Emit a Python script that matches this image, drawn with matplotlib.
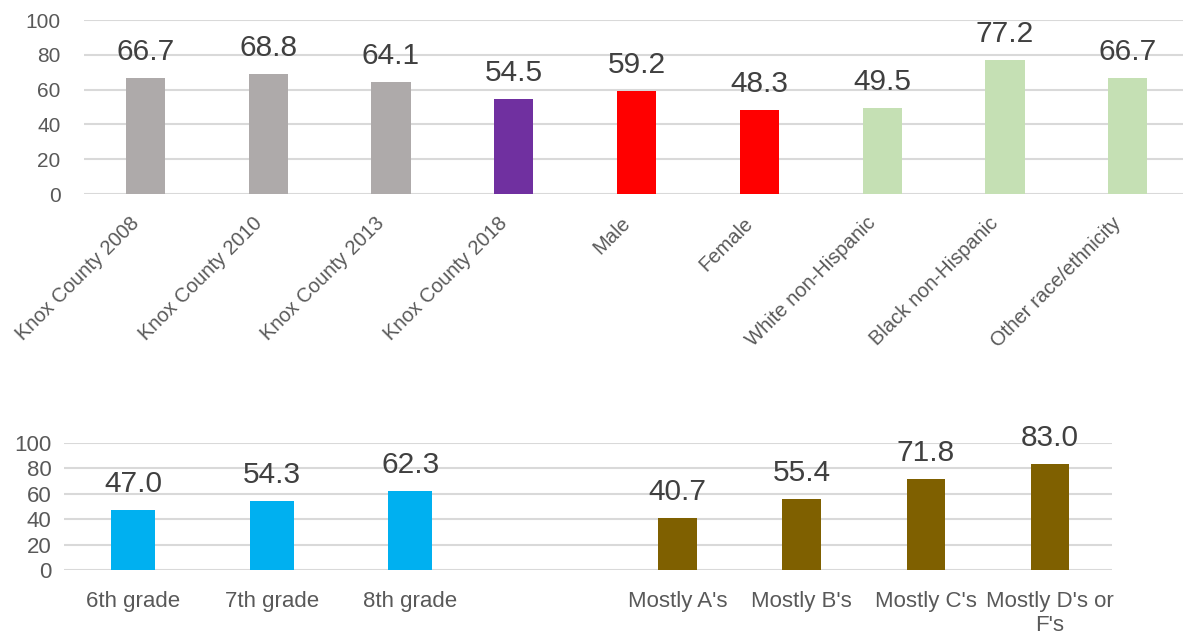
import matplotlib
matplotlib.use("Agg")
from matplotlib import pyplot as plt
from matplotlib.transforms import ScaledTranslation

# top chart: trend, sex, race
top_labels = ['Knox County 2008', 'Knox County 2010', 'Knox County 2013', 'Knox County 2018',
              'Male', 'Female', 'White non-Hispanic', 'Black non-Hispanic', 'Other race/ethnicity']
top_values = [66.7, 68.8, 64.1, 54.5, 59.2, 48.3, 49.5, 77.2, 66.7]
top_colors = ['#AEAAAA', '#AEAAAA', '#AEAAAA', '#7030A0', '#FF0000', '#FF0000',
              '#C5E0B4', '#C5E0B4', '#C5E0B4']

# bottom chart: grade level and school marks
grade_labels = ['6th grade', '7th grade', '8th grade']
grade_values = [47.0, 54.3, 62.3]
marks_labels = ["Mostly A's", "Mostly B's", "Mostly C's", "Mostly D's or\nF's"]
marks_values = [40.7, 55.4, 71.8, 83.0]

plt.rcParams['font.family'] = ['Liberation Sans', 'DejaVu Sans']
grid_c = '#D9D9D9'
tick_c = '#595959'
lab_c = '#404040'
W, H = 1183, 637

fig = plt.figure(figsize=(W / 100, H / 100), dpi=100)


def style(ax, pad, size):
    ax.set_ylim(0, 100)
    ax.set_yticks(range(0, 101, 20))
    ax.yaxis.grid(True, color=grid_c, linewidth=1.5)
    ax.set_axisbelow(True)
    for s in ax.spines.values():
        s.set_visible(False)
    ax.tick_params(axis='both', length=0, colors=tick_c, labelsize=size)
    ax.tick_params(axis='y', pad=pad)


def labels(ax, xs, vals):
    for x, v in zip(xs, vals):
        ax.annotate(f'{v:.1f}', (x, v), xytext=(0, 13), textcoords='offset points',
                    ha='center', va='baseline', fontsize=21.5, color=lab_c)


# top
ax1 = fig.add_axes([84 / W, (H - 194) / H, (W - 84) / W, 174 / H])
x1 = list(range(len(top_values)))
ax1.bar(x1, top_values, width=0.32, color=top_colors)
style(ax1, 17, 15)
ax1.set_xlim(-0.5, 8.45)
ax1.set_xticks(x1)
ax1.set_xticklabels(top_labels, rotation=45, ha='right', rotation_mode='anchor', fontsize=14.5)
ax1.tick_params(axis='x', pad=14)
shift = ScaledTranslation(-0.16, 0, fig.dpi_scale_trans)
for t in ax1.get_xticklabels():
    t.set_transform(t.get_transform() + shift)
labels(ax1, x1, top_values)

# bottom left: grades
split = 548
ax2 = fig.add_axes([64 / W, (H - 570) / H, (split - 64) / W, 127.3 / H])
x2 = list(range(len(grade_values)))
ax2.bar(x2, grade_values, width=0.32, color='#00B0F0')
style(ax2, 9, 16)
ax2.set_xlim(-0.5, (split - 133.25) / 138.5)
ax2.set_xticks(x2)
ax2.set_xticklabels(grade_labels)
ax2.tick_params(axis='x', pad=15)
labels(ax2, x2, grade_values)

# bottom right: marks
ax3 = fig.add_axes([split / W, (H - 570) / H, (1112 - split) / W, 127.3 / H])
x3 = list(range(len(marks_values)))
ax3.bar(x3, marks_values, width=0.31, color='#7F6000')
style(ax3, 9, 16)
ax3.set_xlim(-(677.5 - split) / 124, 3.5)
ax3.set_xticks(x3)
ax3.set_xticklabels(marks_labels, linespacing=1.2)
ax3.tick_params(axis='y', labelleft=False)
ax3.tick_params(axis='x', pad=15)
labels(ax3, x3, marks_values)

fig.savefig('out.png', dpi=100)
